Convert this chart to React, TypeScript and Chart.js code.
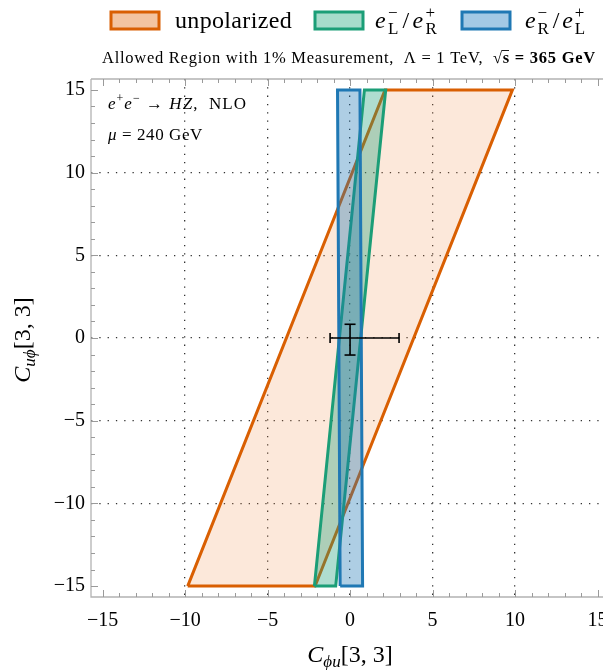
import React, { useEffect, useRef } from "react";
import { Chart, registerables } from "chart.js";

Chart.register(...registerables);

// ---- data ----
const unpolarizedX = [-9.84, -2.12, 9.84, 2.12, -9.84];
const unpolarizedY = [-15, -15, 15, 15, -15];
const leftRightX = [-2.16, -0.87, 2.16, 0.87, -2.16];
const leftRightY = [-15, -15, 15, 15, -15];
const rightLeftX = [-0.6, 0.76, 0.6, -0.76, -0.6];
const rightLeftY = [-15, -15, 15, 15, -15];
const errCenter = [0, 0];
const errXRange = [-1.21, 2.97];
const errYRange = [-1.03, 0.83];
const xTicks = [-15, -10, -5, 0, 5, 10, 15];
const yTicks = [-15, -10, -5, 0, 5, 10, 15];
const minorTicks = [-15, -14, -13, -12, -11, -10, -9, -8, -7, -6, -5, -4, -3, -2, -1, 0, 1, 2, 3, 4, 5, 6, 7, 8, 9, 10, 11, 12, 13, 14, 15];
const X_MIN = -15.7;
const X_MAX = 15.33;
const Y_MIN = -15.66;
const Y_MAX = 15.66;

const SERIF = '"Liberation Serif", "DejaVu Serif", serif';
const ORANGE = "#d95f02";
const GREEN = "#1b9e77";
const BLUE = "#1f78b4";

const pts = (xs: number[], ys: number[]) => xs.map((x, i) => ({ x, y: ys[i] }));
const fmt = (v: number) => (v < 0 ? "\u2212" + Math.abs(v) : String(v));

type Sub = { t: string; f: string; dy: number };
type Run = { t?: string; f?: string; dy?: number; stack?: Sub[]; gap?: number };

function natW(ctx: CanvasRenderingContext2D, r: Run) {
  (ctx as any).letterSpacing = "0px";
  if (r.stack) {
    let m = 0;
    for (const s of r.stack) {
      ctx.font = s.f;
      m = Math.max(m, ctx.measureText(s.t).width);
    }
    return m + (r.gap || 0);
  }
  ctx.font = r.f as string;
  return ctx.measureText(r.t as string).width + (r.gap || 0);
}
const nChars = (r: Run) => (r.stack ? 1 : (r.t as string).length);

function drawRuns(ctx: CanvasRenderingContext2D, runs: Run[], x: number, y: number, align: "left" | "center", target?: number) {
  const nat = runs.map((r) => natW(ctx, r));
  const natTotal = nat.reduce((a, b) => a + b, 0);
  const cnt = runs.reduce((a, r) => a + nChars(r), 0);
  const extra = target ? (target - natTotal) / cnt : 0;
  const ws = runs.map((r, i) => nat[i] + extra * nChars(r));
  const total = ws.reduce((a, b) => a + b, 0);
  const start = align === "center" ? x - total / 2 : x;
  let cx = start;
  ctx.textBaseline = "alphabetic";
  ctx.textAlign = "left";
  runs.forEach((r, i) => {
    if (r.stack) {
      (ctx as any).letterSpacing = "0px";
      for (const s of r.stack) {
        ctx.font = s.f;
        ctx.fillText(s.t, cx, y + s.dy);
      }
    } else {
      (ctx as any).letterSpacing = extra.toFixed(2) + "px";
      ctx.font = r.f as string;
      ctx.fillText(r.t as string, cx, y + (r.dy || 0));
    }
    cx += ws[i];
  });
  (ctx as any).letterSpacing = "0px";
  return { start, ws };
}

const decor = {
  id: "decor",
  afterDraw(chart: any) {
    const ctx: CanvasRenderingContext2D = chart.ctx;
    const a = chart.chartArea;
    const xs = chart.scales.x;
    const ys = chart.scales.y;
    ctx.save();
    // frame
    ctx.strokeStyle = "#b3b3b3";
    ctx.lineWidth = 1.3;
    ctx.beginPath();
    ctx.moveTo(a.left, a.top);
    ctx.lineTo(a.right, a.top);
    ctx.moveTo(a.left, a.top);
    ctx.lineTo(a.left, a.bottom);
    ctx.lineTo(a.right, a.bottom);
    ctx.stroke();
    // ticks
    ctx.strokeStyle = "#9a9a9a";
    ctx.lineWidth = 1;
    ctx.beginPath();
    for (const v of minorTicks) {
      const len = v % 5 === 0 ? 7 : 4;
      const px = Math.round(xs.getPixelForValue(v)) + 0.5;
      if (px > a.left && px <= a.right) {
        ctx.moveTo(px, a.top);
        ctx.lineTo(px, a.top + len);
        ctx.moveTo(px, a.bottom);
        ctx.lineTo(px, a.bottom - len);
      }
      const py = Math.round(ys.getPixelForValue(v)) + 0.5;
      if (py >= a.top && py < a.bottom) {
        ctx.moveTo(a.left, py);
        ctx.lineTo(a.left + len, py);
      }
    }
    ctx.stroke();

    ctx.fillStyle = "#000";
    // legend
    const sf = `17px ${SERIF}`;
    const items = [
      { sx: 111, tx: 175, tw: 117, stroke: ORANGE, fill: "#f3c4a0", runs: [{ t: "unpolarized", f: `24px ${SERIF}` }] as Run[] },
      {
        sx: 315, tx: 375, tw: 64, stroke: GREEN, fill: "#a6dccb",
        runs: [
          { t: "e", f: `italic 24px ${SERIF}` },
          { stack: [{ t: "\u2212", f: sf, dy: -10 }, { t: "L", f: sf, dy: 6 }], gap: 2 },
          { t: "/", f: `24px ${SERIF}`, gap: 1 },
          { t: "e", f: `italic 24px ${SERIF}` },
          { stack: [{ t: "+", f: sf, dy: -10 }, { t: "R", f: sf, dy: 6 }] },
        ] as Run[],
      },
      {
        sx: 462, tx: 525, tw: 62, stroke: BLUE, fill: "#a3c9e5",
        runs: [
          { t: "e", f: `italic 24px ${SERIF}` },
          { stack: [{ t: "\u2212", f: sf, dy: -10 }, { t: "R", f: sf, dy: 6 }], gap: 2 },
          { t: "/", f: `24px ${SERIF}`, gap: 1 },
          { t: "e", f: `italic 24px ${SERIF}` },
          { stack: [{ t: "+", f: sf, dy: -10 }, { t: "L", f: sf, dy: 6 }] },
        ] as Run[],
      },
    ];
    for (const it of items) {
      ctx.fillStyle = it.fill;
      ctx.fillRect(it.sx, 12, 48, 17);
      ctx.strokeStyle = it.stroke;
      ctx.lineWidth = 3;
      ctx.strokeRect(it.sx, 12, 48, 17);
      ctx.fillStyle = "#000";
      drawRuns(ctx, it.runs, it.tx, 28, "left", it.tw);
    }

    // title
    const tf = `16.5px ${SERIF}`;
    const tb = `bold 16.5px ${SERIF}`;
    const r1 = drawRuns(
      ctx,
      [
        { t: "Allowed Region with 1% Measurement,  \u039B = 1 TeV,  \u221A", f: tf },
        { t: "s", f: tb },
        { t: " = 365 GeV", f: tb },
      ],
      349, 63, "center", 494
    );
    ctx.strokeStyle = "#000";
    ctx.lineWidth = 0.9;
    ctx.beginPath();
    ctx.moveTo(r1.start + r1.ws[0] - 1, 50.5);
    ctx.lineTo(r1.start + r1.ws[0] + r1.ws[1] - 1, 50.5);
    ctx.stroke();

    // annotations
    const af = `17px ${SERIF}`;
    const ai = `italic 17px ${SERIF}`;
    const as = `12px ${SERIF}`;
    drawRuns(ctx, [
      { t: "e", f: ai },
      { t: "+", f: as, dy: -7 },
      { t: "e", f: ai },
      { t: "\u2212", f: as, dy: -7 },
      { t: " \u2192 ", f: af },
      { t: "HZ", f: ai },
      { t: ",  NLO", f: af },
    ], 108, 109, "left", 139);
    drawRuns(ctx, [
      { t: "\u03BC", f: ai },
      { t: " = 240 GeV", f: af },
    ], 108, 140, "left", 95);

    // axis titles
    const bf = `24px ${SERIF}`;
    const bi = `italic 24px ${SERIF}`;
    const bs = `italic 17px ${SERIF}`;
    drawRuns(ctx, [
      { t: "C", f: bi },
      { t: "\u03D5u", f: bs, dy: 5 },
      { t: "[3, 3]", f: bf },
    ], 350, 662, "center");
    ctx.save();
    ctx.translate(30, 340);
    ctx.rotate(-Math.PI / 2);
    drawRuns(ctx, [
      { t: "C", f: bi },
      { t: "u\u03D5", f: bs, dy: 5 },
      { t: "[3, 3]", f: bf },
    ], 0, 0, "center");
    ctx.restore();
    ctx.restore();
  },
};

export default function App() {
  const ref = useRef<HTMLCanvasElement | null>(null);
  useEffect(() => {
    if (!ref.current) return;
    const poly = (label: string, xs: number[], ys: number[], stroke: string, fill: string, order: number) => ({
      type: "scatter" as const,
      label,
      data: pts(xs, ys),
      showLine: true,
      fill: "shape",
      backgroundColor: fill,
      borderColor: stroke,
      borderWidth: 3,
      borderJoinStyle: "miter",
      pointRadius: 0,
      order,
    });
    const chart = new Chart(ref.current, {
      type: "scatter",
      data: {
        datasets: [
          poly("unpolarized", unpolarizedX, unpolarizedY, ORANGE, "rgba(238,140,70,0.2)", 4),
          poly("eL/eR", leftRightX, leftRightY, GREEN, "rgba(27,158,119,0.35)", 3),
          poly("eR/eL", rightLeftX, rightLeftY, BLUE, "rgba(31,120,180,0.36)", 2),
          {
            type: "scatter",
            label: "errx",
            data: errXRange.map((x) => ({ x, y: errCenter[1] })),
            showLine: true,
            borderColor: "#000",
            borderWidth: 1.6,
            pointStyle: "line",
            pointRotation: 90,
            pointRadius: 5,
            pointBorderWidth: 1.6,
            pointBorderColor: "#000",
            order: 1,
          },
          {
            type: "scatter",
            label: "erry",
            data: errYRange.map((y) => ({ x: errCenter[0], y })),
            showLine: true,
            borderColor: "#000",
            borderWidth: 1.6,
            pointStyle: "line",
            pointRotation: 0,
            pointRadius: 5.5,
            pointBorderWidth: 1.6,
            pointBorderColor: "#000",
            order: 0,
          },
        ] as any,
      },
      options: {
        animation: false,
        responsive: false,
        devicePixelRatio: 1,
        layout: { autoPadding: false, padding: { top: 79, left: 0, right: 0, bottom: 0 } },
        plugins: { legend: { display: false }, title: { display: false }, tooltip: { enabled: false } },
        scales: {
          x: {
            type: "linear",
            min: X_MIN,
            max: X_MAX,
            afterBuildTicks: (s: any) => {
              s.ticks = xTicks.map((v) => ({ value: v }));
            },
            afterFit: (s: any) => {
              s.height = 73;
              s.paddingLeft = 0;
              s.paddingRight = 0;
            },
            ticks: {
              autoSkip: false,
              maxRotation: 0,
              padding: 12,
              color: "#000",
              font: { family: SERIF, size: 20 },
              callback: (v: any) => fmt(Number(v)),
            },
            grid: {
              drawTicks: false,
              lineWidth: 1.3,
              color: (c: any) => (c.tick && Math.abs(c.tick.value) === 15 ? "rgba(0,0,0,0)" : "#333"),
            },
            border: { display: false, dash: [1.3, 7] },
          },
          y: {
            type: "linear",
            min: Y_MIN,
            max: Y_MAX,
            afterBuildTicks: (s: any) => {
              s.ticks = yTicks.map((v) => ({ value: v }));
            },
            afterFit: (s: any) => {
              s.width = 91;
              s.paddingTop = 0;
              s.paddingBottom = 0;
            },
            ticks: {
              autoSkip: false,
              padding: 6,
              color: "#000",
              font: { family: SERIF, size: 20 },
              callback: (v: any) => fmt(Number(v)),
            },
            grid: {
              drawTicks: false,
              lineWidth: 1.3,
              color: (c: any) => (c.tick && Math.abs(c.tick.value) === 15 ? "rgba(0,0,0,0)" : "#333"),
            },
            border: { display: false, dash: [1.3, 7] },
          },
        },
      } as any,
      plugins: [decor],
    });
    return () => chart.destroy();
  }, []);
  return (
    <div style={{ position: "fixed", left: 0, top: 0, width: 603, height: 670, background: "#fff" }}>
      <canvas ref={ref} width={603} height={670} style={{ width: 603, height: 670, display: "block" }} />
    </div>
  );
}
